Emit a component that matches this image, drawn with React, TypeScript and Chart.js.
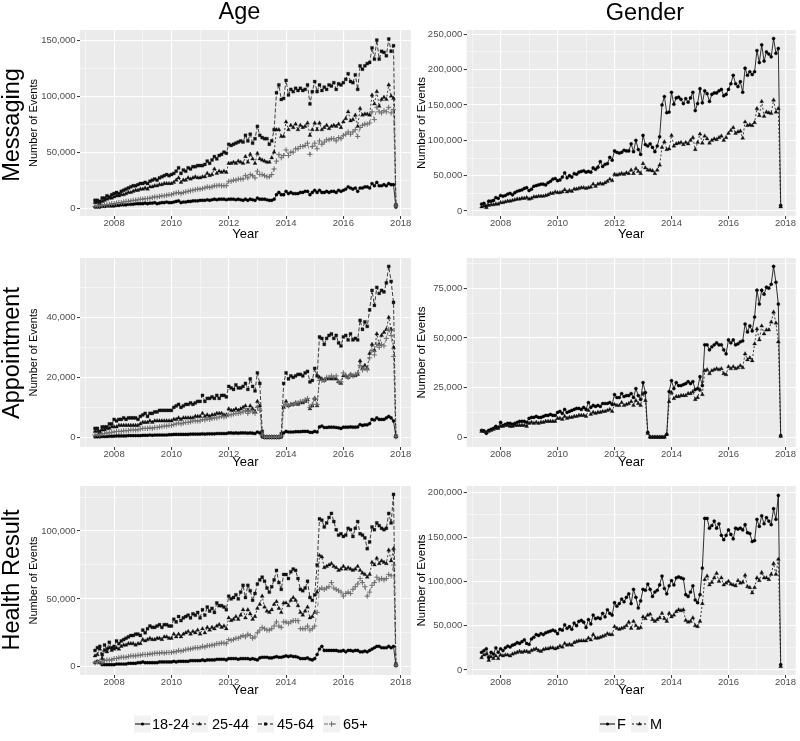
import React, { useEffect, useRef } from 'react';
import { Chart, registerables } from 'chart.js';

Chart.register(...registerables);

const FONT = '"Liberation Sans", Arial, Helvetica, sans-serif';
Chart.defaults.font.family = FONT;

// ---- categories: monthly, May 2007 .. Nov 2017 ----
const START_YEAR = 2007;
const START_MONTH = 5;
const N_MONTHS = 127;
const monthX: number[] = Array.from({ length: N_MONTHS }, (_, i) => START_YEAR + (START_MONTH - 1 + i) / 12);

const AGE_GROUPS = ['18-24', '25-44', '45-64', '65+'];
const GENDERS = ['F', 'M'];
const X_TICK_YEARS = [2007, 2008, 2009, 2010, 2011, 2012, 2013, 2014, 2015, 2016, 2017, 2018];

// ---- values in thousands of events ----
// Messaging by age
const msgAge1824 = [
  1, 1, 1, 1.5, 1.5, 2, 2, 2,
  2, 2.5, 2.5, 3, 3, 3, 3.5, 3.5, 3.5, 4, 4, 4,
  4, 4.5, 4, 4.5, 4.5, 5, 4, 4.5, 5, 5, 5.5, 5,
  5, 5.5, 6, 6.5, 5, 5.5, 5.5, 6, 6, 6.5, 6.5, 6.5,
  7, 7, 7, 7.5, 7, 7.5, 8, 7.5, 8, 8, 8, 7.5,
  8, 8, 8, 7.5, 8, 7.5, 7, 8, 7, 8, 7.5, 7,
  9, 8, 8, 8, 7.5, 7, 7, 8, 12, 14, 12, 12,
  15, 13, 14, 13, 13, 13, 14, 14, 15, 15, 12, 14,
  16, 14, 16, 14, 14, 15, 14, 15, 15, 14, 16, 15,
  16, 17, 19, 18, 17, 18, 15, 18, 18, 19, 19, 18,
  22, 20, 23, 20, 20, 21, 20, 22, 21, 21, 1,
];
const msgAge2544 = [
  5, 5, 4, 6, 7, 8, 9, 9,
  10, 11, 11, 12, 12, 13, 14, 14, 15, 16, 16, 17,
  17, 18, 17, 19, 19, 20, 20, 21, 21, 22, 22, 22,
  22, 23, 25, 27, 23, 25, 25, 27, 26, 27, 28, 27,
  27, 28, 28, 31, 29, 30, 35, 31, 33, 32, 33, 32,
  40, 40, 41, 40, 42, 41, 40, 46, 41, 48, 44, 40,
  49, 44, 43, 42, 41, 41, 45, 50, 70, 70, 64, 64,
  77, 70, 74, 72, 75, 70, 74, 72, 73, 76, 65, 70,
  76, 70, 76, 70, 72, 74, 71, 73, 74, 73, 75, 72,
  77, 80, 86, 78, 79, 83, 73, 89, 83, 84, 84, 83,
  101, 93, 104, 91, 97, 99, 97, 110, 100, 98, 3,
];
const msgAge4564 = [
  7, 7, 6, 9, 9, 11, 10, 12,
  13, 14, 13, 15, 16, 17, 18, 19, 20, 20, 21, 22,
  22, 23, 22, 24, 25, 26, 25, 27, 28, 29, 30, 29,
  30, 31, 33, 36, 31, 34, 33, 36, 35, 37, 37, 38,
  38, 38, 39, 42, 40, 43, 46, 44, 47, 48, 50, 49,
  57, 56, 57, 58, 59, 60, 59, 65, 60, 66, 58, 62,
  73, 65, 63, 62, 62, 57, 60, 70, 103, 110, 97, 98,
  114, 101, 106, 104, 107, 105, 107, 105, 106, 110, 93, 104,
  113, 104, 110, 105, 108, 106, 110, 109, 112, 106, 111, 110,
  112, 115, 120, 113, 112, 119, 106, 127, 124, 127, 129, 130,
  143, 133, 150, 133, 140, 139, 136, 151, 140, 145, 3,
];
const msgAge65 = [
  1.5, 2, 2, 2.5, 3, 3, 3.5, 4,
  4, 4.5, 5, 5, 5.5, 6, 6, 6.5, 7, 7, 7.5, 8,
  8, 8.5, 8.5, 9, 9.5, 10, 10, 10.5, 11, 11, 11.5, 12,
  12, 13, 13.5, 14, 13, 14, 14.5, 15, 15.5, 16, 16.5, 17,
  17, 17.5, 18, 19, 18.5, 19, 20, 20, 20.5, 20, 20, 20,
  24, 24, 25, 25, 26, 26, 26, 29, 27, 30, 29, 27,
  33, 30, 30, 29, 28, 28, 30, 35, 42, 48, 45, 47,
  52, 47, 50, 50, 53, 53, 55, 55, 56, 58, 48, 55,
  58, 53, 60, 57, 59, 61, 61, 62, 62, 60, 63, 62,
  65, 66, 68, 66, 68, 70, 64, 72, 74, 75, 75, 76,
  86, 79, 90, 86, 85, 87, 86, 90, 85, 88, 2,
];

// Messaging by gender
const msgF = [
  10, 11, 7, 14, 14, 15, 19, 18,
  22, 21, 22, 24, 25, 23, 26, 28, 29, 30, 32, 33,
  29, 31, 35, 36, 37, 38, 38, 37, 40, 42, 45, 46,
  43, 44, 48, 54, 47, 50, 48, 53, 52, 55, 56, 57,
  55, 56, 55, 61, 59, 62, 70, 63, 66, 67, 76, 72,
  85, 83, 82, 83, 86, 85, 85, 95, 84, 100, 87, 80,
  107, 94, 92, 95, 90, 84, 92, 105, 150, 162, 139, 140,
  168, 151, 160, 161, 158, 152, 159, 154, 160, 168, 142, 152,
  173, 153, 170, 166, 155, 165, 167, 167, 170, 172, 163, 165,
  172, 180, 192, 180, 176, 183, 168, 202, 192, 197, 193, 197,
  227, 210, 235, 212, 225, 222, 218, 244, 223, 230, 8,
];
const msgM = [
  6, 7, 5, 8, 9, 9, 10, 10,
  12, 12, 13, 14, 14, 15, 16, 17, 17, 18, 18, 19,
  17, 18, 20, 20, 21, 21, 21, 22, 23, 25, 25, 27,
  26, 26, 27, 30, 27, 29, 28, 31, 31, 32, 33, 33,
  32, 33, 34, 38, 35, 38, 39, 38, 40, 42, 45, 43,
  52, 51, 52, 53, 52, 54, 53, 58, 53, 60, 56, 53,
  67, 61, 58, 58, 57, 53, 58, 65, 90, 98, 87, 88,
  107, 92, 95, 96, 97, 94, 97, 95, 100, 104, 87, 97,
  109, 96, 106, 102, 96, 100, 102, 101, 104, 106, 100, 104,
  110, 114, 118, 110, 112, 113, 103, 126, 121, 122, 121, 125,
  145, 135, 155, 134, 140, 139, 138, 157, 140, 145, 6,
];

// Appointment by age
const apAge1824 = [
  0.2, 0.2, 0.2, 0.3, 0.3, 0.3, 0.4, 0.4,
  0.4, 0.5, 0.5, 0.5, 0.5, 0.5, 0.6, 0.6, 0.6, 0.6, 0.6, 0.6,
  0.7, 0.7, 0.7, 0.8, 0.7, 0.8, 0.8, 0.8, 0.8, 0.8, 0.8, 0.9,
  0.9, 1, 1, 1, 1, 1, 1, 1, 1.1, 1.1, 1.1, 1.1,
  1.1, 1.2, 1.1, 1.2, 1.2, 1.2, 1.2, 1.3, 1.3, 1.3, 1.3, 1.3,
  1.5, 1.5, 1.4, 1.5, 1.4, 1.5, 1.5, 1.5, 1.4, 1.5, 1.4, 1.3,
  1.8, 1.5, 0.2, 0, 0, 0, 0, 0, 0, 0, 0.1, 1.5,
  2, 1.8, 1.8, 1.8, 1.9, 1.9, 1.9, 2, 2, 2, 1.7, 1.7,
  2, 1.8, 3.5, 3.8, 3.3, 3.3, 3.4, 3.4, 3.4, 3.3, 3.2, 3,
  3.4, 3.4, 3.4, 3.5, 3.4, 3.4, 3.5, 4.3, 4, 4.2, 4.2, 4.6,
  6, 5.8, 6.5, 6, 6, 6, 6.5, 7, 6.5, 5.5, 0.2,
];
const apAge2544 = [
  2, 2, 1.5, 2.5, 2.5, 3, 3, 3.5,
  3.5, 3.5, 4, 4, 4, 4, 4, 4, 4, 4, 4, 4.5,
  5, 5, 5, 5.5, 5, 5.5, 5.5, 5.5, 5.5, 5.5, 5.5, 5.5,
  5.5, 6, 6, 6.5, 6, 6.5, 6.5, 6.5, 6.5, 6.5, 7, 7,
  7, 8, 7, 7.5, 7, 7.5, 7.5, 8, 8, 8, 7.5, 7.5,
  9.5, 9, 9, 9.5, 9, 9.5, 10, 10.5, 9, 10.5, 9.5, 8.5,
  12, 10.5, 1, 0.1, 0.1, 0.1, 0.1, 0.1, 0.1, 0.1, 0.6, 10,
  12, 10.5, 11, 11, 11.5, 11, 11.5, 11.5, 12, 12.5, 9.5, 10.5,
  13, 10.5, 20, 19.5, 19, 19.5, 19.5, 19.5, 19.5, 19.5, 18.5, 18,
  20.5, 20.5, 20, 21, 20.5, 20.5, 21, 25.5, 23, 24, 23, 28,
  31, 29, 34.5, 31, 34, 35, 36, 40, 36, 30, 0.2,
];
const apAge4564 = [
  3, 3, 2, 3.5, 3.5, 3.5, 4.5, 4.5,
  6, 5.5, 6, 6, 6.5, 6, 6.5, 6.5, 6.5, 6.5, 6, 7,
  7.5, 8, 7, 8, 8, 8.5, 8.5, 9, 9, 9, 9, 9,
  9, 10, 10.5, 11, 10, 10.5, 11, 11, 11.5, 11, 11.5, 12,
  12, 14, 12, 13, 13, 13.5, 13, 14, 13, 14, 14, 13.5,
  17, 16.5, 16, 17.5, 16.5, 16.5, 17, 18, 16, 19.5, 17, 15.5,
  21.5, 18, 2, 0.1, 0.1, 0.1, 0.1, 0.1, 0.1, 0.1, 1.2, 18,
  21.5, 19.5, 20.5, 20, 20.5, 21, 21, 20.5, 21.5, 22, 18.5, 19,
  23, 20.5, 33.5, 33, 31, 33, 34, 34.5, 33, 34, 31.5, 30.5,
  33.5, 34, 32.5, 34.5, 32.5, 33, 32.5, 39, 36, 38.5, 37, 42.5,
  49, 44, 50, 48, 49, 48.5, 51.5, 57, 52, 45, 0.5,
];
const apAge65 = [
  0.8, 1, 0.8, 1.2, 1.3, 1.5, 1.5, 1.7,
  1.8, 2, 2, 2, 2.2, 2.2, 2.3, 2.5, 2.5, 2.5, 2.5, 2.8,
  3, 3, 3, 3.2, 3, 3.3, 3.3, 3.5, 3.6, 3.8, 3.8, 4,
  4, 4.3, 4.5, 4.8, 4.5, 4.8, 5, 5, 5.2, 5.5, 5.5, 5.5,
  5.5, 6, 5.8, 6.2, 6, 6.3, 6.5, 6.5, 6.8, 7, 6.8, 7,
  7.5, 7.5, 7.8, 8, 8, 8.2, 8.5, 9, 8, 9, 8.5, 8,
  10, 9, 0.8, 0.1, 0.1, 0.1, 0.1, 0.1, 0.1, 0.1, 0.5, 10.5,
  11, 10.5, 11, 11, 11.5, 11.5, 12, 12, 12.5, 13, 10, 11,
  13, 11, 19, 19, 19, 20, 20, 20.5, 20, 20.5, 18.5, 18.5,
  21.5, 20.5, 20, 21, 20.5, 21, 21.5, 24, 22.5, 23, 22.5, 26.5,
  29, 27.5, 31, 30, 31, 30.5, 33, 36, 34, 27, 0.2,
];

// Appointment by gender
const apF = [
  3.5, 3.2, 2, 3.5, 4, 4.5, 5.5, 5,
  7.5, 6, 6.5, 7, 7, 6.5, 7, 7.5, 8, 8, 8, 7.5,
  9.5, 10, 10, 10.5, 10, 10, 10.5, 11, 11, 11.5, 11, 11,
  12.5, 13, 12, 14, 12.5, 13, 13.5, 14, 14.5, 14.5, 14, 15,
  14, 17.5, 15, 16, 15.5, 16, 15.5, 17, 17, 17, 17.5, 16.5,
  21.5, 20, 20, 22, 20.5, 21, 21, 22, 20, 24.5, 21, 19,
  27.5, 22.5, 2.5, 0.1, 0.1, 0.1, 0.1, 0.1, 0.1, 0.1, 1.5, 23,
  28.5, 24.5, 27.5, 26, 26, 26.5, 27, 28, 27, 28, 24, 24.5,
  30.5, 26, 46.5, 46.5, 44, 45.5, 46.5, 47.5, 46.5, 46.5, 44, 42,
  49, 47.5, 49, 46.5, 47, 48, 48.5, 57, 53, 56, 53.5, 60.5,
  74, 67, 74, 72, 75.5, 75, 77, 86, 78, 67, 0.8,
];
const apM = [
  3, 3, 2.5, 3, 3.5, 4, 4.5, 4.5,
  5.5, 5.5, 6, 6, 5.5, 5.5, 6, 6, 6, 6, 6, 5.5,
  7, 7.5, 7, 7.5, 7, 7.5, 7.5, 8, 8, 8, 8, 8,
  9.5, 9.5, 9, 10.5, 9.5, 10, 10, 10.5, 10.5, 11, 11, 11,
  10.5, 13.5, 11.5, 12.5, 12, 12.5, 12.5, 13, 13, 13.5, 14, 13,
  16.5, 16, 16, 17.5, 16, 16.5, 17, 18, 16, 18.5, 17, 16,
  22, 18.5, 2, 0.1, 0.1, 0.1, 0.1, 0.1, 0.1, 0.1, 1.5, 18,
  22.5, 19.5, 20.5, 20.5, 21, 21, 21, 22, 22, 23, 19, 20,
  24, 21.5, 33.5, 34, 32, 33.5, 34, 34.5, 34, 34.5, 32, 31.5,
  35.5, 34.5, 35.5, 34.5, 35, 36, 35, 42, 39, 40, 38.5, 47,
  54.5, 49, 56, 52, 54, 54, 58, 63, 57.5, 48, 0.5,
];

// Health Result by age
const hrAge1824 = [
  3, 4, 3, 1.5, 1.5, 1.5, 1.5, 1.5,
  1.5, 2, 2, 2, 2, 2, 2.5, 2.5, 2.5, 2.5, 3, 3,
  3.5, 3, 3, 3, 3, 3, 3, 3.5, 3.5, 3.5, 3.5, 3.5,
  3.5, 4, 3.5, 4, 4, 4, 4, 4, 4.5, 4.5, 4.5, 4.5,
  4.5, 5, 4.5, 5, 5, 5, 5, 5.5, 5.5, 5.5, 5.5, 5,
  6, 6, 6, 6, 5.5, 6, 6, 6, 6, 5.5, 6, 5.5,
  5, 6.5, 7, 7, 7, 6.5, 6.5, 7, 7.5, 7, 7, 7.5,
  8, 7.5, 8, 7.5, 7.5, 7, 6, 6, 6, 6.5, 5.5, 5,
  6, 9, 13, 15, 12, 12, 12, 12, 12, 12, 11.5, 11.5,
  12, 11, 12, 12, 11.5, 12, 12, 11, 11, 11.5, 11, 12,
  13, 14, 15, 15, 14, 14, 14, 15, 14, 15, 1,
];
const hrAge2544 = [
  8, 9, 13, 6, 12, 11, 14, 12,
  13, 14, 13, 15, 16, 16, 17, 17, 17, 16, 17, 17,
  20, 19, 20, 21, 20, 20, 21, 21, 20, 22, 22, 21,
  21, 24, 22, 24, 22, 24, 25, 26, 24, 26, 25, 27,
  24, 28, 25, 29, 27, 29, 28, 30, 31, 29, 30, 28,
  36, 34, 35, 37, 35, 38, 42, 36, 42, 39, 35, 37,
  43, 46, 52, 44, 41, 40, 42, 46, 48, 43, 40, 47,
  47, 45, 49, 51, 49, 45, 40, 38, 41, 44, 36, 37,
  40, 55, 82, 81, 73, 74, 75, 76, 74, 73, 71, 72,
  74, 72, 73, 72, 71, 72, 74, 71, 69, 68, 66, 68,
  77, 75, 80, 76, 78, 77, 76, 86, 78, 87, 1,
];
const hrAge4564 = [
  12, 14, 15, 9, 16, 13, 18, 14,
  15, 19, 17, 19, 20, 21, 22, 23, 23, 24, 24, 23,
  27, 25, 28, 30, 29, 29, 30, 31, 29, 31, 31, 30,
  30, 35, 33, 37, 34, 36, 37, 38, 36, 39, 38, 40,
  36, 42, 38, 44, 41, 43, 40, 47, 45, 45, 44, 42,
  52, 50, 51, 53, 50, 55, 60, 51, 60, 56, 49, 54,
  61, 64, 66, 63, 58, 55, 59, 64, 71, 62, 57, 68,
  68, 65, 70, 72, 71, 65, 57, 56, 58, 63, 51, 49,
  53, 75, 109, 108, 103, 106, 110, 113, 107, 101, 97, 98,
  96, 97, 102, 101, 96, 102, 107, 98, 97, 95, 87, 92,
  103, 101, 106, 104, 102, 101, 102, 113, 106, 127, 2,
];
const hrAge65 = [
  3, 3.5, 4, 3, 4.5, 5, 5, 5,
  6, 6, 6.5, 7, 7, 7, 7.5, 8, 8, 8, 8.5, 8.5,
  9, 9, 9, 9.5, 9.5, 10, 10, 10, 10.5, 10, 10.5, 10.5,
  10.5, 11, 11, 12, 11.5, 12, 12.5, 13, 13, 13.5, 14, 14,
  14, 15, 14.5, 15.5, 15.5, 16, 16, 17, 17, 17.5, 17.5, 17,
  20, 19.5, 20, 21, 21, 22, 23, 22, 24, 23, 21, 22,
  25, 27, 29, 28, 27, 27, 28, 30, 33, 30, 29, 33,
  33, 32, 33, 34, 34, 34, 28, 28, 28, 30, 27, 28,
  30, 40, 57, 58, 57, 58, 59, 62, 58, 57, 56, 55,
  52, 54, 55, 54, 57, 59, 61, 65, 62, 59, 52, 55,
  60, 62, 66, 64, 65, 64, 65, 68, 67, 75, 1,
];

// Health Result by gender
const hrF = [
  20, 22, 24, 14, 20, 18, 25, 20,
  24, 22, 25, 27, 26, 28, 29, 31, 30, 32, 34, 30,
  29, 35, 37, 40, 39, 41, 40, 42, 43, 44, 45, 44,
  41, 46, 45, 51, 47, 49, 46, 53, 50, 55, 56, 54,
  48, 57, 52, 62, 58, 59, 58, 64, 60, 68, 64, 62,
  76, 72, 75, 80, 77, 82, 86, 75, 91, 82, 70, 78,
  91, 90, 97, 91, 83, 88, 90, 96, 106, 92, 86, 95,
  101, 96, 104, 105, 104, 103, 85, 83, 88, 95, 79, 76,
  85, 115, 171, 171, 160, 163, 168, 160, 165, 152, 147, 152,
  158, 153, 148, 160, 159, 160, 158, 164, 155, 154, 145, 146,
  170, 162, 174, 165, 172, 168, 164, 182, 170, 197, 6,
];
const hrM = [
  14, 17, 18, 11, 15, 13, 16, 13,
  17, 16, 17, 17, 16, 18, 19, 20, 21, 20, 21, 21,
  20, 22, 23, 24, 22, 21, 23, 24, 24, 25, 25, 24,
  25, 27, 26, 30, 28, 29, 28, 31, 32, 33, 33, 33,
  33, 36, 34, 40, 36, 36, 37, 38, 39, 41, 40, 40,
  49, 47, 46, 47, 48, 50, 54, 47, 55, 50, 47, 48,
  60, 58, 62, 63, 57, 55, 57, 59, 64, 58, 55, 64,
  60, 62, 66, 68, 67, 68, 56, 54, 55, 59, 50, 49,
  55, 75, 102, 106, 96, 99, 104, 109, 100, 104, 96, 98,
  100, 97, 96, 95, 101, 98, 99, 107, 94, 93, 87, 93,
  104, 101, 110, 104, 104, 102, 108, 120, 108, 125, 4,
];

// ---- styles ----
type SeriesStyle = { color: string; dash: number[]; point: string; r: number };
const AGE_STYLES: SeriesStyle[] = [
  { color: '#000000', dash: [], point: 'circle', r: 1.6 },
  { color: '#111111', dash: [2, 2], point: 'triangle', r: 2.3 },
  { color: '#111111', dash: [4, 2], point: 'rect', r: 2.1 },
  { color: '#6e6e6e', dash: [4, 4], point: 'cross', r: 2.6 },
];
const GENDER_STYLES: SeriesStyle[] = [
  { color: '#000000', dash: [], point: 'circle', r: 1.6 },
  { color: '#111111', dash: [2, 2], point: 'triangle', r: 2.3 },
];

type LegendDef = { y: number; keyX: number[]; textX: number[] };
type PanelDef = {
  x: number; y: number; w: number; h: number;
  pad: { left: number; top: number; right: number; bottom: number };
  yWidth: number; xHeight: number; yTitlePad: number; xTitlePad: number; yTitleSize: number;
  yMin: number; yMax: number; minor: number; major: number;
  series: number[][]; names: string[]; styles: SeriesStyle[];
  legend?: LegendDef;
};

const COL_AGE = { x: 0, w: 420, padL: 0, padR: 9, yWidth: 80, yTitlePad: 27.4, yTitleSize: 11 };
const COL_GEN = { x: 410, w: 390, padL: 0, padR: 3, yWidth: 56.7, yTitlePad: 5.1, yTitleSize: 11.5 };
const ROWS = [
  { y: 0, h: 245, padT: 30, padB: 0, xHeight: 29, xTitlePad: 4.5 },
  { y: 245, h: 225, padT: 13, padB: 0, xHeight: 23, xTitlePad: 1.5 },
  { y: 470, h: 271, padT: 16, padB: 41, xHeight: 25, xTitlePad: 3 },
];

function mk(col: typeof COL_AGE, row: typeof ROWS[0], yMin: number, yMax: number, minor: number, major: number,
  series: number[][], names: string[], styles: SeriesStyle[], legend?: LegendDef): PanelDef {
  return {
    x: col.x, y: row.y, w: col.w, h: row.h,
    pad: { left: col.padL, top: row.padT, right: col.padR, bottom: row.padB },
    yWidth: col.yWidth, xHeight: row.xHeight, yTitlePad: col.yTitlePad, xTitlePad: row.xTitlePad, yTitleSize: col.yTitleSize,
    yMin, yMax, minor, major, series, names, styles, legend,
  };
}

const PANELS: PanelDef[] = [
  mk(COL_AGE, ROWS[0], -7000, 159000, 25000, 50000, [msgAge1824, msgAge2544, msgAge4564, msgAge65], AGE_GROUPS, AGE_STYLES),
  mk(COL_GEN, ROWS[0], -7000, 256000, 25000, 50000, [msgF, msgM], GENDERS, GENDER_STYLES),
  mk(COL_AGE, ROWS[1], -3200, 59800, 10000, 20000, [apAge1824, apAge2544, apAge4564, apAge65], AGE_GROUPS, AGE_STYLES),
  mk(COL_GEN, ROWS[1], -4900, 90200, 12500, 25000, [apF, apM], GENDERS, GENDER_STYLES),
  mk(COL_AGE, ROWS[2], -6100, 133200, 25000, 50000, [hrAge1824, hrAge2544, hrAge4564, hrAge65], AGE_GROUPS, AGE_STYLES,
    { y: 724, keyX: [134, 191, 257, 323], textX: [152, 212, 277, 343] }),
  mk(COL_GEN, ROWS[2], -5600, 207600, 25000, 50000, [hrF, hrM], GENDERS, GENDER_STYLES,
    { y: 724, keyX: [599, 631], textX: [617, 650] }),
];

function fmtThousands(v: number): string {
  return String(Math.round(v)).replace(/\B(?=(\d{3})+(?!\d))/g, ',');
}

function drawMarker(ctx: CanvasRenderingContext2D, st: SeriesStyle, x: number, y: number) {
  ctx.save();
  ctx.fillStyle = st.color;
  ctx.strokeStyle = st.color;
  ctx.lineWidth = 1;
  ctx.setLineDash([]);
  ctx.beginPath();
  const r = st.r;
  if (st.point === 'circle') {
    ctx.arc(x, y, r, 0, Math.PI * 2);
    ctx.fill();
  } else if (st.point === 'triangle') {
    const h = r * 1.5;
    ctx.moveTo(x, y - r);
    ctx.lineTo(x + r * 0.9, y + h - r);
    ctx.lineTo(x - r * 0.9, y + h - r);
    ctx.closePath();
    ctx.fill();
  } else if (st.point === 'rect') {
    const s = r * Math.SQRT1_2;
    ctx.fillRect(x - s, y - s, 2 * s, 2 * s);
  } else {
    ctx.moveTo(x - r, y);
    ctx.lineTo(x + r, y);
    ctx.moveTo(x, y - r);
    ctx.lineTo(x, y + r);
    ctx.stroke();
  }
  ctx.restore();
}

function buildConfig(p: PanelDef): any {
  const yTicks: number[] = [];
  for (let v = Math.ceil(p.yMin / p.minor) * p.minor; v <= p.yMax; v += p.minor) yTicks.push(v);
  const isMajorY = (v: number) => Math.abs(v / p.major - Math.round(v / p.major)) < 1e-6;
  const isMajorX = (v: number) => Math.round(v) % 2 === 0;

  const bgPlugin = {
    id: 'panelBg',
    beforeDraw(chart: any) {
      const { ctx, chartArea } = chart;
      ctx.save();
      ctx.fillStyle = '#EBEBEB';
      ctx.fillRect(chartArea.left, chartArea.top, chartArea.right - chartArea.left, chartArea.bottom - chartArea.top);
      ctx.restore();
    },
  };

  const legendPlugin = {
    id: 'ggLegend',
    afterDraw(chart: any) {
      if (!p.legend) return;
      const ctx: CanvasRenderingContext2D = chart.ctx;
      const lg = p.legend;
      const cy = lg.y - p.y;
      p.names.forEach((name, i) => {
        const st = p.styles[i];
        const kx = lg.keyX[i] - p.x;
        ctx.save();
        ctx.fillStyle = '#F2F2F2';
        ctx.fillRect(kx, cy - 8.5, 17, 17);
        ctx.strokeStyle = st.color;
        ctx.lineWidth = 1;
        ctx.setLineDash(st.dash);
        ctx.beginPath();
        ctx.moveTo(kx + 1, cy);
        ctx.lineTo(kx + 16, cy);
        ctx.stroke();
        ctx.restore();
        drawMarker(ctx, st, kx + 8.5, cy);
        ctx.save();
        ctx.fillStyle = '#000';
        ctx.font = `14.5px ${FONT}`;
        ctx.textBaseline = 'middle';
        ctx.textAlign = 'left';
        ctx.fillText(name, lg.textX[i] - p.x, cy + 0.5);
        ctx.restore();
      });
    },
  };

  const n = p.series.length;
  return {
    type: 'line',
    data: {
      datasets: p.series.map((vals, i) => {
        const st = p.styles[i];
        return {
          label: p.names[i],
          data: vals.map((v, j) => ({ x: monthX[j], y: v * 1000 })),
          borderColor: st.color,
          backgroundColor: st.color,
          borderWidth: 0.8,
          borderDash: st.dash,
          pointStyle: st.point,
          pointRadius: st.r,
          pointBorderWidth: st.point === 'cross' ? 1 : 0.3,
          pointBackgroundColor: st.color,
          pointBorderColor: st.color,
          tension: 0,
          fill: false,
          order: n - i,
        };
      }),
    },
    options: {
      animation: false,
      responsive: false,
      maintainAspectRatio: false,
      devicePixelRatio: 1,
      events: [],
      layout: { padding: p.pad },
      plugins: { legend: { display: false }, tooltip: { enabled: false } },
      scales: {
        x: {
          type: 'linear',
          position: 'bottom',
          min: 2006.81,
          max: 2018.36,
          afterBuildTicks: (scale: any) => { scale.ticks = X_TICK_YEARS.map((v) => ({ value: v })); },
          afterFit: (scale: any) => { scale.height = p.xHeight; },
          border: { display: false },
          grid: {
            color: '#FFFFFF',
            lineWidth: (c: any) => (c.tick && isMajorX(c.tick.value) ? 1.1 : 0.5),
            drawTicks: true,
            tickLength: 3,
            tickWidth: 1,
            tickColor: (c: any) => (c.tick && isMajorX(c.tick.value) ? '#333333' : 'rgba(0,0,0,0)'),
          },
          ticks: {
            autoSkip: false,
            maxRotation: 0,
            minRotation: 0,
            padding: -0.5,
            color: '#4D4D4D',
            font: { size: 9.5, lineHeight: 1 },
            callback: (v: any) => (isMajorX(Number(v)) ? String(Math.round(Number(v))) : ''),
          },
          title: {
            display: true,
            text: 'Year',
            color: '#000000',
            font: { size: 13, lineHeight: 1 },
            padding: { top: 0, bottom: p.xTitlePad },
          },
        },
        y: {
          type: 'linear',
          position: 'left',
          min: p.yMin,
          max: p.yMax,
          afterBuildTicks: (scale: any) => { scale.ticks = yTicks.map((v) => ({ value: v })); },
          afterFit: (scale: any) => { scale.width = p.yWidth; },
          border: { display: false },
          grid: {
            color: '#FFFFFF',
            lineWidth: (c: any) => (c.tick && isMajorY(c.tick.value) ? 1.1 : 0.5),
            drawTicks: true,
            tickLength: 3,
            tickWidth: 1,
            tickColor: (c: any) => (c.tick && isMajorY(c.tick.value) ? '#333333' : 'rgba(0,0,0,0)'),
          },
          ticks: {
            autoSkip: false,
            padding: 1.5,
            color: '#4D4D4D',
            font: { size: 9.5 },
            callback: (v: any) => (isMajorY(Number(v)) ? fmtThousands(Number(v)) : ''),
          },
          title: {
            display: true,
            text: 'Number of Events',
            color: '#000000',
            font: { size: p.yTitleSize },
            padding: { top: p.yTitlePad, bottom: 0 },
          },
        },
      },
    },
    plugins: [bgPlugin, legendPlugin],
  };
}

function Panel({ def }: { def: PanelDef }) {
  const ref = useRef<HTMLCanvasElement>(null);
  useEffect(() => {
    if (!ref.current) return;
    const chart = new Chart(ref.current, buildConfig(def));
    return () => chart.destroy();
  }, [def]);
  return (
    <canvas
      ref={ref}
      width={def.w}
      height={def.h}
      style={{ position: 'absolute', left: def.x, top: def.y, width: def.w, height: def.h }}
    />
  );
}

const COL_TITLES = [
  { text: 'Age', cx: 239.5, top: 0 },
  { text: 'Gender', cx: 645, top: 1 },
];
const ROW_TITLES = [
  { text: 'Messaging', cy: 124.5 },
  { text: 'Appointment', cy: 352.5 },
  { text: 'Health Result', cy: 580 },
];

export default function App() {
  return (
    <div style={{ position: 'absolute', left: 0, top: 0, width: 800, height: 741, background: '#FFFFFF', overflow: 'hidden', fontFamily: FONT }}>
      {PANELS.map((p, i) => <Panel key={i} def={p} />)}
      {COL_TITLES.map((t) => (
        <div key={t.text} style={{ position: 'absolute', left: t.cx, top: t.top, transform: 'translateX(-50%)', fontSize: 23.5, lineHeight: 1, color: '#000', whiteSpace: 'nowrap' }}>
          {t.text}
        </div>
      ))}
      {ROW_TITLES.map((t) => (
        <div key={t.text} style={{ position: 'absolute', left: 12, top: t.cy, transform: 'translate(-50%, -50%) rotate(-90deg)', fontSize: 23.5, lineHeight: 1, color: '#000', whiteSpace: 'nowrap' }}>
          {t.text}
        </div>
      ))}
    </div>
  );
}
